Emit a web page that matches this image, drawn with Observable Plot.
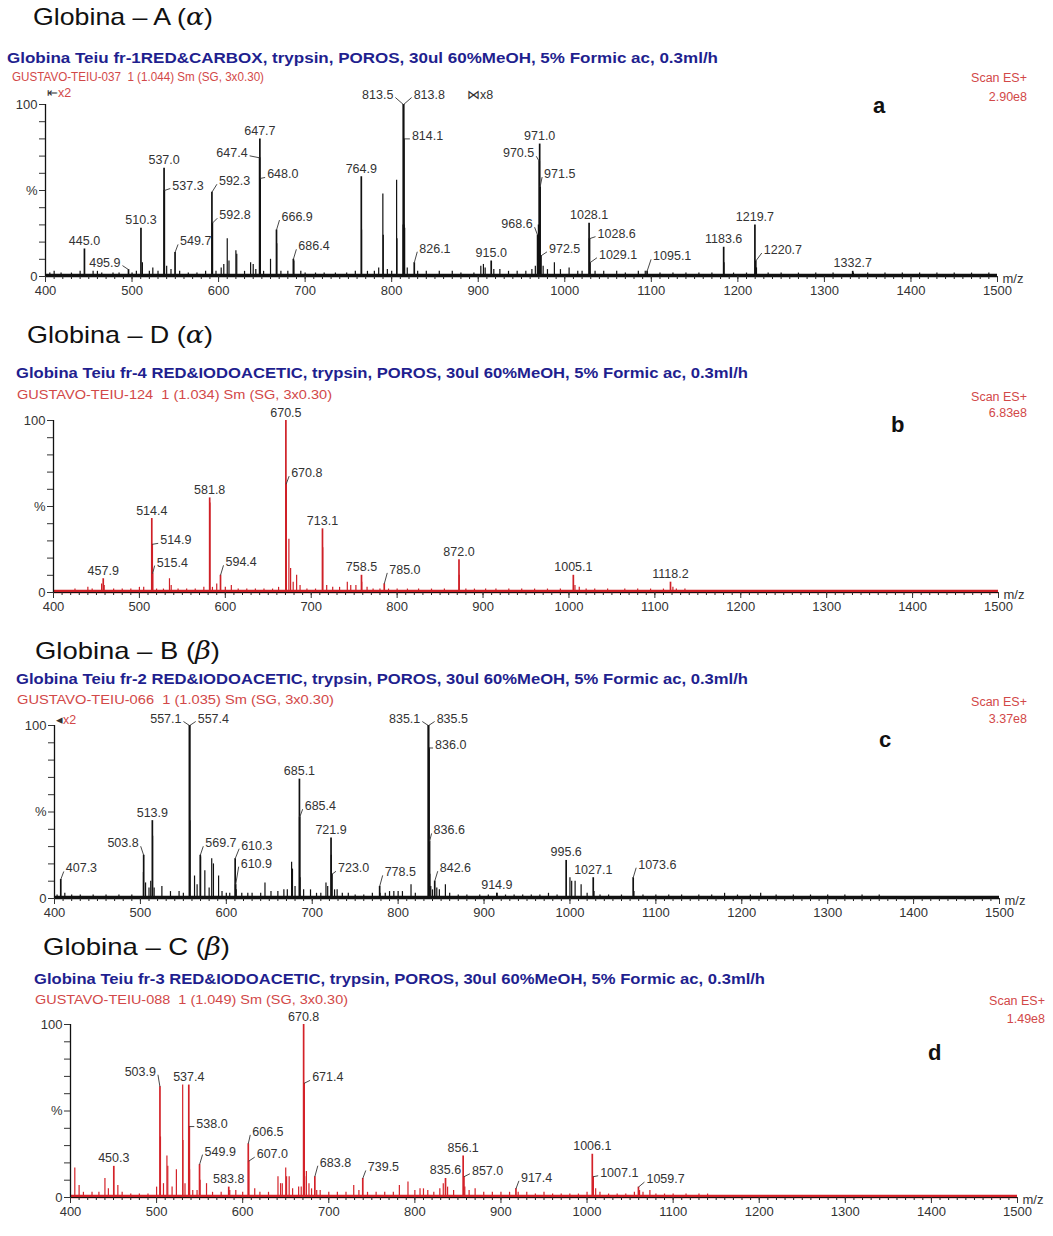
<!DOCTYPE html>
<html>
<head>
<meta charset="utf-8">
<script src="https://cdn.jsdelivr.net/npm/d3@7"></script>
<script src="https://cdn.jsdelivr.net/npm/@observablehq/plot@0.6"></script>
<style>
  html, body { margin: 0; padding: 0; background: #fff; }
  #page { position: relative; width: 1053px; height: 1236px; overflow: hidden;
          font-family: "Liberation Sans", Arial, sans-serif; background: #fff; }
  .abs { position: absolute; white-space: pre; line-height: 1; }
  .greek { font-family: "DejaVu Serif", "Liberation Serif", serif; font-style: italic; }
</style>
</head>
<body>
<div id="page"></div>
<script>
// ---- Text of the four spectra ----
const globinNames = ["Globina – A", "Globina – D", "Globina – B", "Globina – C"];
const chainSymbols = ["α", "α", "β", "β"];
const runTitles = [
  "Globina Teiu fr-1RED&CARBOX, trypsin, POROS, 30ul 60%MeOH, 5% Formic ac, 0.3ml/h",
  "Globina Teiu fr-4 RED&IODOACETIC, trypsin, POROS, 30ul 60%MeOH, 5% Formic ac, 0.3ml/h",
  "Globina Teiu fr-2 RED&IODOACETIC, trypsin, POROS, 30ul 60%MeOH, 5% Formic ac, 0.3ml/h",
  "Globina Teiu fr-3 RED&IODOACETIC, trypsin, POROS, 30ul 60%MeOH, 5% Formic ac, 0.3ml/h"
];
const runIds = [
  "GUSTAVO-TEIU-037  1 (1.044) Sm (SG, 3x0.30)",
  "GUSTAVO-TEIU-124  1 (1.034) Sm (SG, 3x0.30)",
  "GUSTAVO-TEIU-066  1 (1.035) Sm (SG, 3x0.30)",
  "GUSTAVO-TEIU-088  1 (1.049) Sm (SG, 3x0.30)"
];
const scanMode = "Scan ES+";
const totalIntensities = ["2.90e8", "6.83e8", "3.37e8", "1.49e8"];
const panelLetters = ["a", "b", "c", "d"];

// ---- Axis ticks ----
const mzDomain = [400, 1500];
const majorTicks = [400, 500, 600, 700, 800, 900, 1000, 1100, 1200, 1300, 1400, 1500];
const minorTicks = d3.range(400, 1501, 10);
const yTicks = d3.range(0, 101, 10);
const yTickText = {0: "0", 50: "%", 100: "100"};

// ---- Spectrum a: labelled peaks [m/z, relative intensity %] ----
const peaksA = [
  [445.0, 16], [495.9, 4], [510.3, 28], [537.0, 63], [537.3, 50], [549.7, 14],
  [592.3, 49], [592.8, 31], [647.4, 69], [647.7, 80], [648.0, 57], [666.9, 27],
  [686.4, 10], [764.9, 58], [813.5, 100], [813.8, 100], [814.1, 80], [826.1, 8],
  [915.0, 9], [968.6, 24], [970.5, 67], [971.0, 77], [971.5, 52], [972.5, 12],
  [1028.1, 31], [1028.6, 22], [1029.1, 8], [1095.1, 3], [1183.6, 17], [1219.7, 30],
  [1220.7, 9], [1332.7, 3]
];
const minorPeaksA = [
  [405, 2], [410, 3], [418, 2], [430, 2], [440, 3], [455, 3], [460, 3], [465, 2], [478, 2],
  [485, 2], [500, 2], [505, 3], [512, 8], [520, 3], [524, 5], [530, 3], [540, 6], [545, 4],
  [555, 3], [565, 2], [575, 2], [585, 3], [597, 3], [603, 5], [606, 7], [610, 22], [612, 9],
  [620, 15], [621, 13], [630, 3], [637, 8], [640, 7], [643, 4], [652, 3], [660, 10],
  [667.2, 19], [672, 3], [680, 3], [687, 9], [695, 3], [700, 2], [712, 2], [722, 2], [735, 2],
  [748, 2], [758, 3], [765.2, 27], [772, 3], [780, 3], [785, 5], [789.8, 48], [790.3, 24],
  [795, 4], [800, 3], [805.7, 56], [806.1, 22], [813.2, 30], [814.4, 30], [815, 28], [818, 5],
  [830, 3], [840, 3], [855, 3], [870, 3], [880, 2], [895, 2], [903, 6], [906, 7], [908, 5],
  [918, 4], [925, 4], [935, 3], [945, 3], [955, 3], [962, 4], [966, 6], [969.5, 30],
  [975, 6], [980, 4], [988, 8], [995, 4], [1005, 5], [1015, 3], [1020, 3], [1035, 3],
  [1045, 3], [1060, 3], [1070, 2], [1085, 3], [1093, 3], [1110, 2], [1125, 2], [1140, 2],
  [1155, 2], [1170, 2], [1184, 8], [1195, 2], [1210, 2], [1221.5, 5], [1235, 2], [1250, 2],
  [1270, 2], [1290, 2], [1310, 2], [1333.5, 2], [1350, 2], [1370, 2], [1390, 2], [1410, 2],
  [1430, 2], [1450, 2], [1470, 2], [1490, 2]
];

// ---- Spectrum b ----
const peaksB = [
  [457.9, 8], [514.4, 43], [514.9, 28], [515.4, 11], [581.8, 55], [594.4, 10],
  [670.5, 100], [670.8, 63], [713.1, 37], [758.5, 10], [785.0, 5], [872.0, 19],
  [1005.1, 10], [1118.2, 6]
];
const minorPeaksB = [
  [410, 1], [425, 2], [440, 3], [445, 2], [456, 5], [459, 4], [470, 2], [480, 2], [490, 2],
  [500, 3], [505, 3], [520, 2], [528, 2], [535, 8], [537, 4], [545, 2], [555, 2], [565, 2],
  [575, 3], [582.1, 52], [585, 3], [590, 5], [600, 3], [607, 4], [615, 2], [625, 2], [635, 2],
  [645, 2], [655, 2], [662, 3], [671.1, 31], [674, 31], [676, 14], [679, 6], [683, 10],
  [687, 4], [695, 2], [705, 2], [713.4, 26], [718, 4], [725, 3], [733, 3], [742, 6], [746, 4],
  [752, 4], [758.8, 6], [765, 3], [772, 2], [780, 2], [790, 2], [800, 2], [812, 2], [825, 2],
  [840, 2], [855, 2], [872.3, 10], [880, 2], [890, 2], [903, 2], [915, 2], [930, 2], [945, 2],
  [960, 2], [975, 2], [990, 2], [1007, 4], [1012, 3], [1020, 2], [1030, 2], [1045, 2],
  [1065, 2], [1080, 2], [1095, 2], [1110, 2], [1121, 3], [1125, 2], [1135, 2]
];

// ---- Spectrum c ----
const peaksC = [
  [407.3, 11], [503.8, 25], [513.9, 45], [557.1, 100], [557.4, 100], [569.7, 25],
  [610.3, 23], [610.9, 8], [685.1, 69], [685.4, 47], [721.9, 35], [723.0, 14],
  [778.5, 7], [835.1, 100], [835.5, 100], [836.0, 87], [836.6, 33], [842.6, 10],
  [914.9, 3], [995.6, 22], [1027.1, 12], [1073.6, 12]
];
const minorPeaksC = [
  [403, 2], [412, 3], [420, 2], [430, 2], [445, 2], [460, 2], [475, 2], [490, 2], [503.5, 15],
  [506, 9], [510, 6], [512, 10], [514.2, 36], [516, 6], [525, 7], [535, 4], [545, 4], [550, 3],
  [557.7, 45], [563, 13], [566, 8], [570, 24], [575, 16], [580, 6], [583, 23], [585, 20],
  [591, 13], [595, 4], [600, 3], [604, 3], [611.5, 5], [618, 3], [625, 3], [630, 3], [640, 3],
  [645, 9], [652, 4], [660, 4], [667, 5], [671, 5], [676, 21], [677, 17], [680, 7],
  [685.8, 12], [690, 5], [698, 5], [705, 3], [710, 3], [716, 9], [718, 7], [722.2, 25],
  [726, 5], [729, 5], [735, 3], [742, 3], [750, 2], [760, 2], [770, 3], [779, 3], [785, 3],
  [790, 4], [795, 4], [800, 4], [805, 4], [815, 8], [820, 3], [836.9, 14], [838, 7], [840, 5],
  [845, 6], [848, 5], [855, 8], [860, 3], [870, 2], [880, 2], [895, 2], [905, 2], [915, 3],
  [925, 2], [935, 2], [945, 2], [955, 2], [965, 2], [975, 3], [985, 2], [1000, 12],
  [1002, 10], [1006, 10], [1013, 8], [1020, 3], [1028, 4], [1035, 2], [1045, 2], [1060, 2],
  [1074.5, 4], [1085, 2], [1100, 2], [1115, 2], [1130, 2], [1150, 2], [1165, 2], [1180, 3],
  [1195, 2], [1210, 2], [1222, 3], [1240, 2], [1260, 2], [1280, 2], [1300, 2], [1320, 2],
  [1340, 2], [1360, 2], [1380, 1], [1400, 1], [1430, 1], [1460, 1], [1490, 1]
];

// ---- Spectrum d ----
const peaksD = [
  [450.3, 18], [503.9, 64], [537.4, 65], [538.0, 41], [549.9, 19], [583.8, 6],
  [606.5, 31], [607.0, 21], [670.8, 100], [671.4, 66], [683.8, 12], [739.5, 11],
  [835.6, 11], [856.1, 24], [857.0, 12], [917.4, 5], [1006.1, 25], [1007.1, 12],
  [1059.7, 6]
];
const minorPeaksD = [
  [405, 17], [410, 7], [415, 3], [425, 3], [433, 3], [440, 11], [444, 5], [455, 7], [460, 3],
  [470, 2], [480, 2], [490, 2], [500, 6], [504.5, 35], [508, 8], [512, 24], [513, 18],
  [518, 6], [523, 16], [530.3, 65], [530.6, 33], [533, 8], [538.3, 16], [542, 4], [547, 4],
  [550.5, 10], [558, 8], [565, 3], [575, 3], [585, 4], [592, 4], [600, 3], [614, 5], [620, 3],
  [630, 3], [641, 12], [644, 8], [646, 8], [650, 17], [651, 12], [654, 12], [658, 5], [665, 6],
  [668, 6], [672, 12], [674, 15], [677, 8], [680, 5], [686, 4], [690, 4], [700, 3], [710, 3],
  [720, 3], [729, 7], [735, 4], [745, 3], [755, 3], [765, 3], [775, 3], [782, 7], [792, 9],
  [800, 4], [806, 5], [810, 5], [815, 4], [822, 3], [829, 5], [833, 8], [838, 6], [845, 4],
  [858, 6], [863, 4], [870, 5], [880, 3], [890, 3], [900, 3], [910, 3], [920, 3], [930, 3],
  [940, 2], [950, 3], [960, 2], [970, 2], [980, 2], [990, 2], [1000, 3], [1010, 5], [1015, 3],
  [1025, 2], [1035, 2], [1045, 2], [1055, 3], [1061, 4], [1065, 3], [1073, 4], [1080, 2],
  [1090, 2], [1100, 2], [1115, 2], [1130, 2], [1140, 2], [1155, 1], [1170, 1], [1190, 1],
  [1210, 1], [1230, 1], [1260, 1], [1290, 1], [1320, 1], [1350, 1], [1380, 1], [1410, 1],
  [1440, 1], [1470, 1], [1495, 1]
];

// ---- Label placement: leader end offset in px from the peak top; others sit centred above ----
const leaderOffsets = [
  {"495.9": [-6, -4], "537.3": [6, -2], "549.7": [3, -8], "592.3": [5, -8], "592.8": [5, -5],
   "647.4": [-10, -2], "648.0": [5, -1], "666.9": [3, -10], "686.4": [3, -10], "813.5": [-8, -7],
   "813.8": [8, -7], "814.1": [6, 0], "826.1": [3, -11], "968.6": [-3, -8], "970.5": [-3, -5],
   "971.5": [2, -10], "972.5": [6, -4], "1028.6": [6, -2], "1029.1": [7, -5], "1095.1": [4, -12],
   "1220.7": [6, -8]},
  {"514.9": [6, -1], "515.4": [2, -8], "594.4": [3, -10], "670.8": [3, -8], "785.0": [3, -11]},
  {"407.3": [3, -8], "503.8": [-3, -9], "557.1": [-6, -4], "557.4": [6, -4], "569.7": [3, -9],
   "610.3": [4, -10], "610.9": [3, -18], "685.4": [3, -8], "723.0": [4, -3], "778.5": [3, -11],
   "835.1": [-6, -4], "835.5": [6, -4], "836.0": [4, 0], "836.6": [2, -8], "842.6": [3, -10],
   "1073.6": [3, -10]},
  {"503.9": [-2, -12], "538.0": [5, 0], "549.9": [3, -10], "606.5": [2, -9], "607.0": [6, -4],
   "671.4": [6, -3], "683.8": [3, -11], "739.5": [3, -8], "857.0": [6, -3], "917.4": [3, -8],
   "1007.1": [5, -1], "1059.7": [6, -5]}
];

// ---- Page layout of each panel ----
const layout = [
  {peaks: peaksA, minor: minorPeaksA, color: "#111111", y100: 104, plotH: 172, ml: 45, mr: 56,
   title: [33, 17, 180], run: [7, 58, 711], id: [12, 77, 252], scan: [1027, 78, 97], letter: [873, 106]},
  {peaks: peaksB, minor: minorPeaksB, color: "#cf2027", y100: 420, plotH: 172, ml: 53, mr: 55,
   title: [27, 335, 186], run: [16, 373, 732], id: [17, 395, 315], scan: [1027, 397, 413], letter: [891, 425]},
  {peaks: peaksC, minor: minorPeaksC, color: "#111111", y100: 725, plotH: 173, ml: 54, mr: 54,
   title: [35, 651, 185], run: [16, 679, 732], id: [17, 700, 317], scan: [1027, 702, 719], letter: [879, 740]},
  {peaks: peaksD, minor: minorPeaksD, color: "#d42229", y100: 1024, plotH: 173, ml: 70, mr: 36,
   title: [43, 947, 187], run: [34, 979, 731], id: [35, 1000, 313], scan: [1045, 1001, 1019], letter: [928, 1053]}
];

const W = 1053, MT = 26, MB = 30;
const page = document.getElementById("page");

function spectrum(p, offsets) {
  const kx = (W - p.ml - p.mr) / (mzDomain[1] - mzDomain[0]);
  const ky = p.plotH / 100;
  const rows = p.peaks.map(([mz, v]) => {
    const t = mz.toFixed(1);
    const o = offsets[t];
    if (!o) return {t, mz, v, side: "middle"};
    const s = Math.sign(o[0]) || 1;
    return {
      t, mz, v, side: o[0] < 0 ? "end" : "start",
      x2: mz + o[0] / kx, y2: v - o[1] / ky,
      tx: mz + (o[0] + s * 2) / kx, ty: v - (o[1] - 3) / ky
    };
  });
  const labelStyle = {fill: "#333", fontSize: 12.5};
  return Plot.plot({
    width: W,
    height: MT + p.plotH + MB,
    marginTop: MT, marginBottom: MB, marginLeft: p.ml, marginRight: p.mr,
    x: {domain: mzDomain, label: null},
    y: {domain: [0, 100], label: null},
    style: {fontFamily: "'Liberation Sans', Arial, sans-serif", fontSize: "13px",
            overflow: "visible", background: "transparent"},
    marks: [
      // baseline noise band
      Plot.ruleY([0.6], {x1: mzDomain[0], x2: mzDomain[1], stroke: p.color, strokeWidth: 3.5}),
      Plot.ruleX(p.minor, {x: d => d[0], y1: 0, y2: d => d[1], stroke: p.color, strokeWidth: 1.2}),
      Plot.ruleX(p.peaks, {x: d => d[0], y1: 0, y2: d => d[1], stroke: p.color, strokeWidth: 1.7}),
      // axes
      Plot.ruleY([0], {x1: mzDomain[0], x2: mzDomain[1], stroke: "#111", strokeWidth: 1.2}),
      Plot.ruleX([mzDomain[0]], {y1: 0, y2: 100, stroke: "#111", strokeWidth: 1.3}),
      Plot.axisX(minorTicks, {tickSize: 3, tickFormat: () => "", color: "#222", label: null}),
      Plot.axisX(majorTicks, {tickSize: 6, tickPadding: 3, tickFormat: d => String(d),
                              color: "#333", label: null}),
      Plot.axisY(yTicks, {tickSize: 6, tickPadding: 2, tickFormat: d => yTickText[d] ?? "",
                          color: "#333", label: null}),
      Plot.text(["m/z"], {x: mzDomain[1], y: 0, text: d => d, dx: 5, dy: 2,
                          textAnchor: "start", fill: "#333"}),
      // peak labels
      Plot.link(rows.filter(r => r.side !== "middle"),
                {x1: "mz", y1: "v", x2: "x2", y2: "y2", stroke: "#333", strokeWidth: 0.9}),
      Plot.text(rows.filter(r => r.side === "middle"),
                {x: "mz", y: "v", text: "t", dy: -8, ...labelStyle}),
      Plot.text(rows.filter(r => r.side === "start"),
                {x: "tx", y: "ty", text: "t", textAnchor: "start", ...labelStyle}),
      Plot.text(rows.filter(r => r.side === "end"),
                {x: "tx", y: "ty", text: "t", textAnchor: "end", ...labelStyle})
    ]
  });
}

function put(content, {x, y, size, weight = 400, color = "#000", align = "left", width, html = false}) {
  const el = document.createElement("div");
  el.className = "abs";
  if (html) el.innerHTML = content; else el.textContent = content;
  el.style.fontSize = size + "px";
  el.style.fontWeight = weight;
  el.style.color = color;
  el.style.left = x + "px";
  el.style.top = y + "px";
  page.appendChild(el);
  const w = el.getBoundingClientRect().width;
  const sx = width ? width / w : 1;
  el.style.transformOrigin = align === "right" ? "right center" : "left center";
  el.style.transform = `translate(${align === "right" ? "-100%" : "0"}, -50%) scaleX(${sx})`;
  return el;
}

layout.forEach((p, i) => {
  const svg = spectrum(p, leaderOffsets[i]);
  svg.style.position = "absolute";
  svg.style.left = "0px";
  svg.style.top = (p.y100 - MT) + "px";
  page.appendChild(svg);

  put(`${globinNames[i]} (<span class="greek">${chainSymbols[i]}</span>)`,
      {x: p.title[0], y: p.title[1], size: 24, width: p.title[2], html: true, color: "#111"});
  put(runTitles[i], {x: p.run[0], y: p.run[1], size: 14, weight: 700, color: "#1f1f8f", width: p.run[2]});
  put(runIds[i], {x: p.id[0], y: p.id[1], size: 12, color: "#d24848", width: p.id[2]});
  put(scanMode, {x: p.scan[0], y: p.scan[1], size: 12.5, color: "#d24848", align: "right"});
  put(totalIntensities[i], {x: p.scan[0], y: p.scan[2], size: 12.5, color: "#d24848", align: "right"});
  put(panelLetters[i], {x: p.letter[0], y: p.letter[1], size: 22, weight: 700, color: "#111"});
});

// magnification markers
put('<span style="color:#333">⇤</span>x2', {x: 47, y: 93, size: 12.5, color: "#d24848", html: true});
put('<span style="color:#333">⋈</span>x8', {x: 467, y: 95, size: 12.5, color: "#333", html: true});
put('<span style="color:#333">◂</span>x2', {x: 56, y: 720, size: 12.5, color: "#d24848", html: true});
</script>
</body>
</html>
